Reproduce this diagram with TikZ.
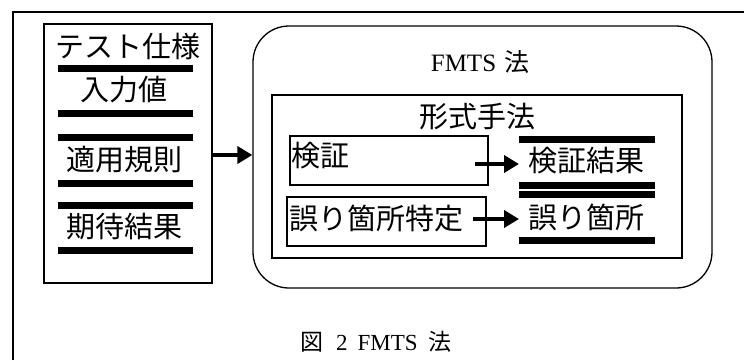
\documentclass[tikz,border=0pt]{standalone}
\usepackage{fontspec}
\setmainfont{Liberation Serif}
\newfontfamily\jp{Noto Sans CJK JP}
\newcommand\ltsize{\fontsize{25}{25}\selectfont}
\newcommand\ctsize{\fontsize{23}{23}\selectfont}
\usetikzlibrary{arrows.meta}
\begin{document}
\begin{tikzpicture}[x=1pt,y=-1pt,
  frameline/.style={line width=2pt},
  box/.style={draw, line width=1.3pt, inner sep=0pt},
  bar/.style={line width=7pt},
  arr/.style={line width=4pt, -{Triangle[length=15pt,width=17pt]}},
  jtxt/.style={font=\jp\fontsize{29}{29}\selectfont, inner sep=0pt},
  ltxt/.style={inner sep=0pt},
  ctxt/.style={inner sep=0pt}]
\useasboundingbox (0,0) rectangle (744,360);
% outer frame
\draw[frameline] (13,360) -- (13,12) -- (744,12);
% test specification box
\node[box, minimum width=168, minimum height=259] (spec) at (128,153.5) {};
\node[jtxt] (t0) at (128,46) {テスト仕様};
\node[jtxt] (t1) at (124,90) {入力値};
\node[jtxt] (t2) at (124,160) {適用規則};
\node[jtxt] (t3) at (124.5,227) {期待結果};
\foreach \yy in {68.5,113.5,137.5,183.5,205,250.5}
  \draw[bar] (58,\yy) -- (193,\yy);
% FMTS rounded box
\node[box, rounded corners=36pt, minimum width=459, minimum height=262] (fmts) at (482.5,157) {};
\node[ltxt] (ftitle) at (480,62) {\ltsize FMTS\hspace{8pt}{\jp\ltsize 法}};
% formal methods box
\node[box, minimum width=410, minimum height=163] (formal) at (477,176.5) {};
\node[jtxt] (ftitle2) at (477,117) {形式手法};
\node[box, minimum width=198, minimum height=49] (ver) at (389,160.5) {};
\node[jtxt, anchor=west] (vert) at (291,156) {検証};
\node[box, minimum width=199, minimum height=49] (loc) at (386.5,221.5) {};
\node[jtxt, anchor=west] (loct) at (289,218) {誤り箇所特定};
% results
\node[jtxt] (res1) at (586,161) {検証結果};
\node[jtxt] (res2) at (586,217) {誤り箇所};
\foreach \yy in {139.5,185.5,194.5,240.5}
  \draw[bar] (519,\yy) -- (655,\yy);
% arrows
\coordinate (a0) at (212,155);
\draw[arr] (a0 -| spec.east) -- (a0 -| fmts.west);
\coordinate (a1) at (475,164);
\coordinate (b1) at (519,164);
\draw[arr] (a1) -- (b1);
\coordinate (a2) at (473,219);
\coordinate (b2) at (519,219);
\draw[arr] (a2) -- (b2);
% caption
\node[ctxt] (cap) at (376,342) {\ctsize{\jp\ctsize 図}\hspace{13pt}2\hspace{10pt}FMTS\hspace{11pt}{\jp\ctsize 法}};
\end{tikzpicture}
\end{document}
